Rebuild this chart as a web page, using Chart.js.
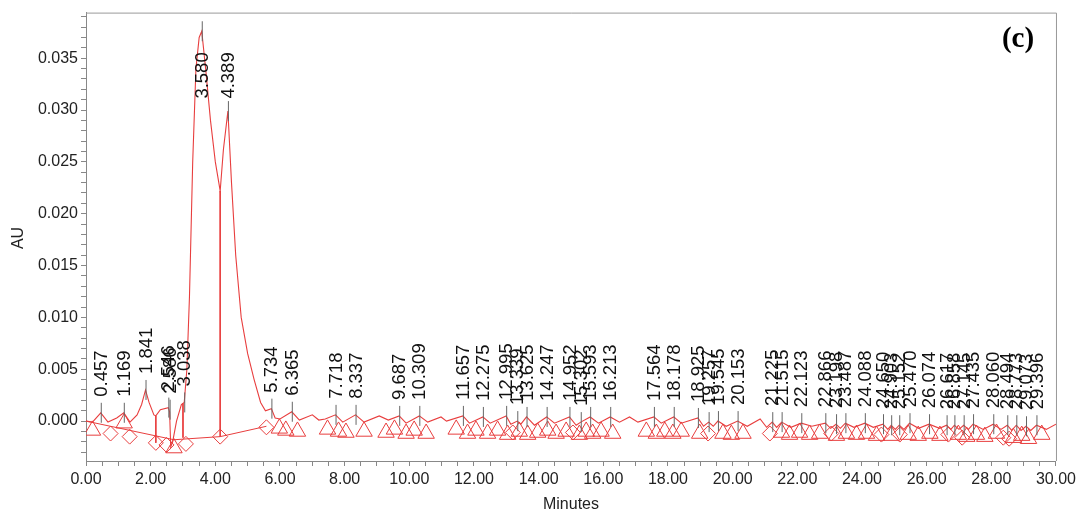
<!DOCTYPE html>
<html>
<head>
<meta charset="utf-8">
<script src="https://cdn.jsdelivr.net/npm/chart.js@4.4.1/dist/chart.umd.min.js"></script>
<style>
  html, body { margin: 0; padding: 0; background: #fff; }
  #wrap { width: 1080px; height: 518px; position: relative; }
</style>
</head>
<body>
<div id="wrap"><canvas id="chart"></canvas></div>
<script>
// detector trace, minutes vs AU
const traceTime = [
  0.00, 0.20, 0.457, 0.68, 0.95, 1.169, 1.36, 1.58, 1.72, 1.841, 1.95, 2.10, 2.16, 2.30, 2.546, 2.586,
  2.62, 2.68, 2.80, 2.95, 3.038, 3.12, 3.20, 3.30, 3.40, 3.50, 3.58, 3.70, 3.85, 4.00, 4.15, 4.25,
  4.389, 4.50, 4.63, 4.80, 5.00, 5.20, 5.40, 5.55, 5.734, 5.85, 6.00, 6.365, 6.60, 7.00, 7.20, 7.40,
  7.718, 7.94, 8.337, 8.60, 9.07, 9.35, 9.687, 9.90, 10.309, 10.57, 10.98, 11.15, 11.657, 11.86,
  12.275, 12.50, 12.995, 13.14, 13.339, 13.45, 13.625, 13.87, 14.247, 14.49, 14.952, 15.16, 15.302,
  15.593, 15.85, 16.213, 16.50, 16.81, 17.07, 17.564, 17.79, 18.178, 18.41, 18.925, 19.10, 19.257,
  19.40, 19.545, 19.80, 20.153, 20.45, 20.85, 21.05, 21.225, 21.36, 21.515, 21.80, 22.123, 22.45,
  22.866, 23.03, 23.198, 23.33, 23.487, 23.75, 24.088, 24.35, 24.65, 24.80, 24.903, 25.03, 25.152,
  25.30, 25.470, 25.75, 26.074, 26.40, 26.617, 26.75, 26.858, 27.00, 27.145, 27.29, 27.435, 27.75,
  28.060, 28.30, 28.494, 28.63, 28.773, 28.92, 29.073, 29.22, 29.396, 29.70, 30.00
];
const traceAU = [
  0.0000, -0.0001, 0.0008, -0.0001, 0.0003, 0.0008, -0.0001, 0.0006, 0.0016, 0.0030, 0.0018, 0.0006, 0.0005, 0.0011, 0.0013, 0.0009,
  -0.0025, -0.0020, 0.0000, 0.0016, 0.0018, 0.0050, 0.0120, 0.0250, 0.0340, 0.0370, 0.0376, 0.0340, 0.0290, 0.0250, 0.0222, 0.0262,
  0.0299, 0.0230, 0.0160, 0.0100, 0.0065, 0.0040, 0.0018, 0.0010, 0.0012, 0.0003, 0.0002, 0.0009, 0.0001, 0.0006, 0.0001, 0.0002,
  0.0006, -0.0001, 0.0006, -0.0001, 0.0005, 0.0001, 0.0005, -0.0002, 0.0005, -0.0001, 0.0004, 0.0000, 0.0005, -0.0002,
  0.0004, -0.0002, 0.0005, -0.0003, 0.0000, -0.0003, 0.0004, -0.0004, 0.0004, -0.0002, 0.0004, -0.0004, -0.0001,
  0.0004, -0.0002, 0.0004, -0.0001, 0.0004, -0.0001, 0.0004, -0.0002, 0.0004, -0.0002, 0.0003, -0.0005, -0.0001,
  -0.0005, 0.0000, -0.0005, 0.0000, -0.0005, 0.0002, -0.0006, -0.0001, -0.0006, -0.0001, -0.0006, -0.0002, -0.0005,
  -0.0002, -0.0007, -0.0003, -0.0007, -0.0002, -0.0006, -0.0002, -0.0006, -0.0003, -0.0008, -0.0004, -0.0008, -0.0004,
  -0.0008, -0.0002, -0.0007, -0.0003, -0.0007, -0.0004, -0.0008, -0.0004, -0.0008, -0.0004, -0.0008, -0.0003, -0.0008,
  -0.0003, -0.0008, -0.0004, -0.0009, -0.0004, -0.0009, -0.0005, -0.0009, -0.0004, -0.0008, -0.0003
];

// integrated peaks: retention time labels and apex height
const peakRT = [
  '0.457', '1.169', '1.841', '2.546', '2.586', '3.038', '3.580', '4.389', '5.734', '6.365', '7.718', '8.337',
  '9.687', '10.309', '11.657', '12.275', '12.995', '13.339', '13.625', '14.247', '14.952', '15.302', '15.593',
  '16.213', '17.564', '18.178', '18.925', '19.257', '19.545', '20.153', '21.225', '21.515', '22.123', '22.866',
  '23.198', '23.487', '24.088', '24.650', '24.903', '25.152', '25.470', '26.074', '26.617', '26.858', '27.145',
  '27.435', '28.060', '28.494', '28.773', '29.073', '29.396'
];
const peakAU = [
  0.0008, 0.0008, 0.0030, 0.0013, 0.0011, 0.0018, 0.0376, 0.0299, 0.0012, 0.0009, 0.0006, 0.0006,
  0.0005, 0.0005, 0.0005, 0.0004, 0.0005, 0.0000, 0.0004, 0.0004, 0.0004, -0.0001, 0.0004,
  0.0004, 0.0004, 0.0004, 0.0003, -0.0001, 0.0000, 0.0000, -0.0001, -0.0001, -0.0002, -0.0002,
  -0.0003, -0.0002, -0.0002, -0.0003, -0.0004, -0.0004, -0.0002, -0.0003, -0.0004, -0.0004, -0.0004,
  -0.0003, -0.0003, -0.0004, -0.0004, -0.0005, -0.0004
];

// peak start / end markers
const triTime = [
  0.20, 1.18, 2.72, 5.98, 6.18, 6.54, 7.47, 7.81, 8.04, 8.60, 9.28,
  9.54, 9.90, 10.15, 10.52, 11.45, 11.80, 12.06, 12.42, 12.73, 13.04, 13.40, 13.66, 13.97, 14.28,
  14.54, 14.85, 15.26, 15.47, 15.67, 15.93, 16.29, 17.33, 17.64, 17.90, 18.15, 18.41, 18.98,
  19.70, 19.96, 20.32, 21.51, 21.76, 22.07, 22.38, 22.69, 23.21, 23.52, 23.83, 24.14, 24.45, 24.91,
  25.43, 25.74, 26.10, 26.41, 26.98, 27.24, 27.54, 27.80, 28.16, 28.68, 28.94, 29.15, 29.56
];
const triAU = [
  -0.0009, -0.0002, -0.0026, -0.0007, -0.0009, -0.0010, -0.0008, -0.0010, -0.0011, -0.0010, -0.0011,
  -0.0008, -0.0012, -0.0009, -0.0012, -0.0008, -0.0012, -0.0009, -0.0012, -0.0009, -0.0013, -0.0010, -0.0013, -0.0011, -0.0009,
  -0.0012, -0.0010, -0.0013, -0.0010, -0.0012, -0.0010, -0.0012, -0.0010, -0.0012, -0.0010, -0.0012, -0.0010, -0.0012,
  -0.0012, -0.0013, -0.0012, -0.0011, -0.0013, -0.0011, -0.0013, -0.0012, -0.0014, -0.0012, -0.0013, -0.0012, -0.0014, -0.0014,
  -0.0013, -0.0014, -0.0012, -0.0014, -0.0013, -0.0015, -0.0013, -0.0015, -0.0012, -0.0016, -0.0014, -0.0017, -0.0013
];
const diaTime = [0.76, 1.35, 2.16, 2.49, 3.09, 4.15, 5.58, 13.20, 15.06, 19.24, 21.15, 23.05, 24.60, 25.17, 26.67, 27.10, 28.37, 28.55];
const diaAU = [-0.0012, -0.0015, -0.0021, -0.0023, -0.0022, -0.0015, -0.0006, -0.0011, -0.0011, -0.0012, -0.0012, -0.0012, -0.0013, -0.0013, -0.0013, -0.0016, -0.0016, -0.0017];

// integration baseline and drop lines (null = break)
const baseTime = [0.00, 2.72, 4.15, 5.58, null, 2.16, 2.16, null, 3.00, 3.00, null, 4.15, 4.15];
const baseAU = [0.0000, -0.0018, -0.0015, -0.0005, null, 0.0005, -0.0021, null, 0.0017, -0.0016, null, 0.0222, -0.0015];

const RED = 'rgb(232,62,62)';
const FONT = "'Liberation Sans', Arial, sans-serif";

const pts = (xs, ys) => xs.map((x, i) => ({ x: x === null ? xs[i - 1] : x, y: ys[i] }));

const framePlugin = {
  id: 'frame',
  afterDatasetsDraw(chart) {
    const { ctx, chartArea: a, scales: { x, y } } = chart;
    ctx.save();
    // peak ticks + retention time labels
    ctx.font = '18.5px ' + FONT;
    ctx.fillStyle = '#111';
    ctx.textAlign = 'left';
    ctx.textBaseline = 'middle';
    peakRT.forEach((rt, i) => {
      const px = x.getPixelForValue(parseFloat(rt));
      const py = y.getPixelForValue(peakAU[i]);
      ctx.strokeStyle = '#666';
      ctx.lineWidth = 1;
      ctx.beginPath();
      ctx.moveTo(px + 0.5, py - 10);
      ctx.lineTo(px + 0.5, py + 10);
      ctx.stroke();
      ctx.save();
      ctx.translate(px + 1, Math.max(py - 16, a.top + 86));
      ctx.rotate(-Math.PI / 2);
      ctx.fillText(rt, 0, 0);
      ctx.restore();
    });
    ctx.restore();
  },
  afterDraw(chart) {
    const { ctx, chartArea: a } = chart;
    ctx.save();
    ctx.strokeStyle = '#999';
    ctx.lineWidth = 1;
    ctx.beginPath();
    ctx.moveTo(a.left, a.top + 0.5);
    ctx.lineTo(a.right + 0.5, a.top + 0.5);
    ctx.lineTo(a.right + 0.5, a.bottom);
    ctx.stroke();

    ctx.fillStyle = '#222';
    ctx.font = '16px ' + FONT;
    ctx.textAlign = 'center';
    ctx.textBaseline = 'middle';
    ctx.fillText('Minutes', (a.left + a.right) / 2, 505);
    ctx.save();
    ctx.translate(19, 238);
    ctx.rotate(-Math.PI / 2);
    ctx.fillText('AU', 0, 0);
    ctx.restore();

    ctx.fillStyle = '#000';
    ctx.font = "bold 29px 'Liberation Serif', 'Times New Roman', serif";
    ctx.fillText('(c)', 1018, 40);
    ctx.restore();
  }
};

new Chart(document.getElementById('chart'), {
  type: 'line',
  data: {
    datasets: [
      {
        data: pts(traceTime, traceAU),
        borderColor: RED,
        borderWidth: 1.1,
        pointRadius: 0,
        tension: 0
      },
      {
        data: pts(baseTime, baseAU),
        borderColor: RED,
        borderWidth: 1,
        pointRadius: 0,
        spanGaps: false
      },
      {
        data: pts(triTime, triAU),
        showLine: false,
        pointStyle: 'triangle',
        pointRadius: 9.5,
        borderColor: RED,
        borderWidth: 1,
        backgroundColor: 'rgba(0,0,0,0)'
      },
      {
        data: pts(diaTime, diaAU),
        showLine: false,
        pointStyle: 'rectRot',
        pointRadius: 7.5,
        borderColor: RED,
        borderWidth: 1,
        backgroundColor: 'rgba(0,0,0,0)'
      }
    ]
  },
  options: {
    responsive: true,
    maintainAspectRatio: false,
    animation: false,
    layout: { padding: { left: 0, top: 11, right: 24, bottom: 0 } },
    plugins: { legend: { display: false }, tooltip: { enabled: false } },
    scales: {
      x: {
        type: 'linear',
        min: 0,
        max: 30,
        afterFit: s => { s.height = 57; },
        border: { color: '#888' },
        grid: { drawOnChartArea: false, drawTicks: true, tickLength: 5, color: '#888' },
        ticks: {
          stepSize: 0.5,
          autoSkip: false,
          maxRotation: 0,
          padding: 4,
          color: '#222',
          font: { family: FONT, size: 16 },
          callback: v => (Math.abs(v / 2 - Math.round(v / 2)) < 1e-6 ? v.toFixed(2) : '')
        }
      },
      y: {
        type: 'linear',
        min: -0.00385,
        max: 0.0394,
        afterFit: s => { s.width = 86; },
        border: { color: '#888' },
        grid: { drawOnChartArea: false, drawTicks: true, tickLength: 5, color: '#888' },
        ticks: {
          stepSize: 0.001,
          includeBounds: false,
          autoSkip: false,
          padding: 3,
          color: '#222',
          font: { family: FONT, size: 16 },
          callback: v => (Math.abs(v / 0.005 - Math.round(v / 0.005)) < 1e-6 ? v.toFixed(3) : '')
        }
      }
    }
  },
  plugins: [framePlugin]
});
</script>
</body>
</html>
